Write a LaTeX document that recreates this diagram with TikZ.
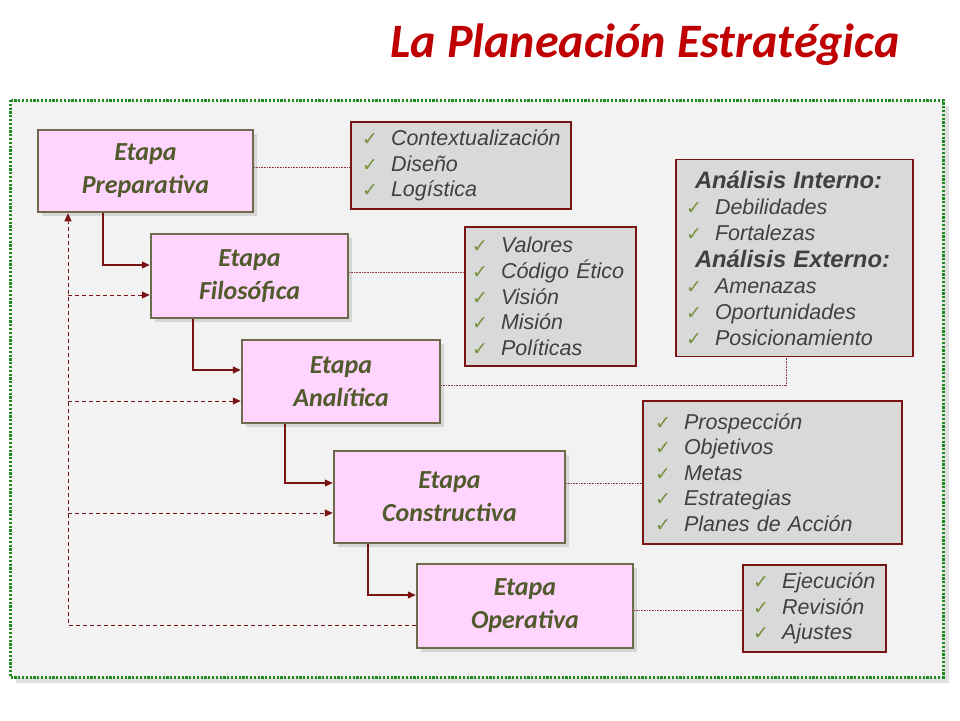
\documentclass[tikz,border=0pt]{standalone}
\usepackage{fontspec}
\setmainfont{Liberation Sans}
\newfontfamily\calib{Carlito}
\newfontfamily\ckfont{DejaVu Sans}
\usetikzlibrary{arrows.meta,shadows}
\definecolor{titlered}{HTML}{C00000}
\definecolor{framegreen}{HTML}{1E8C1E}
\definecolor{panelbg}{HTML}{F2F2F2}
\definecolor{stagefill}{HTML}{FFD5FF}
\definecolor{stageborder}{HTML}{6E6A4C}
\definecolor{stagetext}{HTML}{505A2A}
\definecolor{linkred}{HTML}{7A1414}
\definecolor{detailfill}{HTML}{D9D9D9}
\definecolor{detailtext}{HTML}{404040}
\definecolor{ckgreen}{HTML}{76923C}
\newcommand{\ck}{\makebox[29pt][l]{\ckfont\upshape\fontsize{19}{19}\selectfont\color{ckgreen}✓}}
\newcommand{\hdr}[1]{\hspace*{9pt}{\bfseries\fontsize{23.8}{26}\selectfont #1}}
\tikzset{
  stagebox/.style={rectangle, draw=stageborder, line width=2.5pt, fill=stagefill,
    align=center, inner sep=0pt, text=stagetext,
    font=\calib\bfseries\itshape\fontsize{26}{33}\selectfont,
    drop shadow={shadow xshift=4pt, shadow yshift=-4pt, opacity=0.25, fill=black!50}},
  detailbox/.style={rectangle, draw=linkred, line width=1.8pt, fill=detailfill,
    align=left, inner ysep=0pt, text=detailtext,
    font=\itshape\fontsize{21.5}{25.6}\selectfont},
  flow/.style={draw=linkred, line width=1.3pt, -{Triangle[length=8pt,width=7pt]}},
  backarrow/.style={draw=linkred, line width=1pt, dash pattern=on 4pt off 3pt,
    -{Triangle[length=8pt,width=7pt]}},
  link/.style={draw=linkred!85, line width=0.8pt, dash pattern=on 1pt off 0.6pt},
}
\begin{document}
\begin{tikzpicture}[x=1pt,y=-1pt]
\useasboundingbox (0,0) rectangle (960,720);
\fill[white] (0,0) rectangle (960,720);
% frame
\fill[black!12] (16,106) rectangle (949,683);
\fill[panelbg] (10,100) rectangle (943,677);
\draw[framegreen, line width=3pt, dash pattern=on 2.2pt off 1.6pt] (10,100) rectangle (943,677);
% title
\node[font=\calib\bfseries\itshape\fontsize{48}{55}\selectfont, text=titlered, anchor=base] (title) at (645,57) {La Planeación Estratégica};
% stages
\node[stagebox, minimum width=215pt, minimum height=82pt] (prep) at (145.5,171) {Etapa\\Preparativa};
\node[stagebox, minimum width=197pt, minimum height=84pt] (fil) at (249.5,276) {Etapa\\Filosófica};
\node[stagebox, minimum width=198pt, minimum height=83pt] (anal) at (341,381.5) {Etapa\\Analítica};
\node[stagebox, minimum width=231pt, minimum height=92pt] (cons) at (449.5,497) {Etapa\\Constructiva};
\node[stagebox, minimum width=216pt, minimum height=84pt] (oper) at (525,606) {Etapa\\Operativa};
% detail boxes
\node[detailbox, minimum width=220pt, minimum height=87pt, text width=198pt, inner xsep=11pt] (d1) at (461,165.5)
  {\ck Contextualización\\\ck Diseño\\\ck Logística};
\node[detailbox, minimum width=171pt, minimum height=139pt, text width=157pt, inner xsep=7pt] (d2) at (550.5,296.5)
  {\ck Valores\\\ck Código~Ético\\\ck Visión\\\ck Misión\\\ck Políticas};
\node[detailbox, minimum width=237pt, minimum height=197pt, text width=217pt, inner xsep=10pt,
  font=\itshape\fontsize{21.5}{26}\selectfont] (d3) at (794.5,258)
  {\hdr{Análisis Interno:}\\\ck Debilidades\\\ck Fortalezas\\[1pt]\hdr{Análisis Externo:}\\\ck Amenazas\\\ck Oportunidades\\\ck Posicionamiento};
\node[detailbox, minimum width=259pt, minimum height=143pt, text width=235pt, inner xsep=12pt] (d4) at (772.5,472.5)
  {\ck Prospección\\\ck Objetivos\\\ck Metas\\\ck Estrategias\\\ck Planes de Acción};
\node[detailbox, minimum width=143pt, minimum height=87pt, text width=123pt, inner xsep=10pt] (d5) at (814.5,608.5)
  {\ck Ejecución\\\ck Revisión\\\ck Ajustes};
% helper coordinates
\coordinate (c1) at (103,0);
\coordinate (c2) at (193,0);
\coordinate (c3) at (285,0);
\coordinate (c4) at (368,0);
\coordinate (bus) at (68,0);
\coordinate (dx) at (786,0);
% solid flow
\draw[flow] (prep.south -| c1) |- ([yshift=11pt]fil.west);
\draw[flow] (fil.south -| c2) |- ([yshift=11.5pt]anal.west);
\draw[flow] (anal.south -| c3) |- ([yshift=14pt]cons.west);
\draw[flow] (cons.south -| c4) |- ([yshift=11pt]oper.west);
% dashed feedback
\coordinate (fd) at ([yshift=-19pt]fil.west);
\coordinate (ad) at ([yshift=-19.5pt]anal.west);
\coordinate (cd) at ([yshift=-16pt]cons.west);
\coordinate (od) at ([yshift=-19pt]oper.west);
\draw[backarrow] (od) -| (prep.south -| bus);
\draw[backarrow] (fd -| bus) -- (fd);
\draw[backarrow] (ad -| bus) -- (ad);
\draw[backarrow] (cd -| bus) -- (cd);
% links to details
\coordinate (pe) at ([yshift=4pt]prep.east);
\coordinate (fe) at ([yshift=4pt]fil.east);
\coordinate (ae) at ([yshift=-3.5pt]anal.east);
\coordinate (ce) at ([yshift=14pt]cons.east);
\coordinate (oe) at ([yshift=-4pt]oper.east);
\draw[link] (pe) -- (pe -| d1.west);
\draw[link] (fe) -- (fe -| d2.west);
\draw[link] (ae) -| (d3.south -| dx);
\draw[link] (ce) -- (ce -| d4.west);
\draw[link] (oe) -- (oe -| d5.west);
\end{tikzpicture}
\end{document}
